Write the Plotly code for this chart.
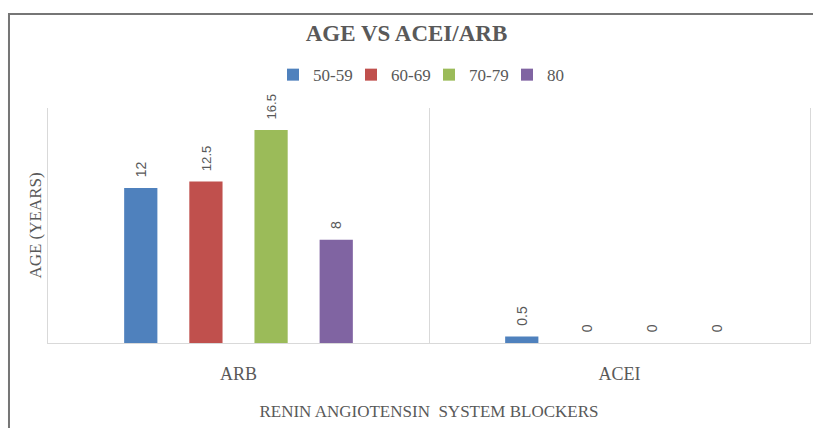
import plotly.graph_objects as go

categories = ["ARB", "ACEI"]
age_groups = ["50-59", "60-69", "70-79", "80"]
values = {
    "50-59": [12, 0.5],
    "60-69": [12.5, 0],
    "70-79": [16.5, 0],
    "80": [8, 0],
}
colors = ["#4f81bd", "#c0504d", "#9bbb59", "#8064a2"]

serif = "Liberation Serif"
gray = "#595959"

fig = go.Figure()
for name, color in zip(age_groups, colors):
    fig.add_trace(
        go.Bar(
            x=categories,
            y=values[name],
            name=name,
            marker=dict(color=color, line=dict(width=0)),
            text=[f"\u00a0\u00a0{v:g}" for v in values[name]],
            textposition="outside",
            textangle=-90,
            textfont=dict(family="Liberation Sans", size=14, color=gray),
            cliponaxis=False,
        )
    )

fig.update_layout(
    width=813,
    height=428,
    paper_bgcolor="white",
    plot_bgcolor="white",
    margin=dict(l=48, r=3, t=108, b=85),
    barmode="group",
    bargap=0.316,
    bargroupgap=0.49,
    title=dict(
        text="<b>AGE VS ACEI/ARB</b>",
        x=0.5,
        xanchor="center",
        y=0.923,
        yanchor="middle",
        font=dict(family=serif, size=23, color=gray),
    ),
    legend=dict(
        orientation="h",
        x=0.5,
        xanchor="center",
        y=1.14,
        yanchor="middle",
        font=dict(family=serif, size=17, color=gray),
        entrywidth=33,
        entrywidthmode="pixels",
    ),
    font=dict(family=serif, color=gray),
)

fig.update_xaxes(
    type="category",
    automargin=False,
    tickson="boundaries",
    showgrid=True,
    gridcolor="#d9d9d9",
    gridwidth=1,
    showline=True,
    linecolor="#d9d9d9",
    ticks="",
    ticklabelstandoff=14,
    tickfont=dict(family=serif, size=18, color=gray),
    title=dict(
        text="RENIN ANGIOTENSIN  SYSTEM BLOCKERS",
        font=dict(family=serif, size=17, color=gray),
        standoff=22,
    ),
)
fig.update_yaxes(
    range=[0, 18.2],
    automargin=False,
    showgrid=False,
    showticklabels=False,
    zeroline=False,
    showline=True,
    mirror=True,
    linecolor="#d9d9d9",
    title=dict(
        text="AGE (YEARS)",
        font=dict(family=serif, size=17, color=gray),
        standoff=1,
    ),
)

# outer chart border
fig.add_shape(
    type="rect",
    xref="paper",
    yref="paper",
    x0=-0.0512,
    x1=1.08,
    y0=-0.5,
    y1=1.4,
    line=dict(color="#767676", width=2),
    fillcolor="rgba(0,0,0,0)",
    layer="below",
)

fig.write_html(
    "out.html",
    config={"displayModeBar": False},
    post_script="document.body.style.margin='0px';document.body.style.overflow='hidden';",
)
